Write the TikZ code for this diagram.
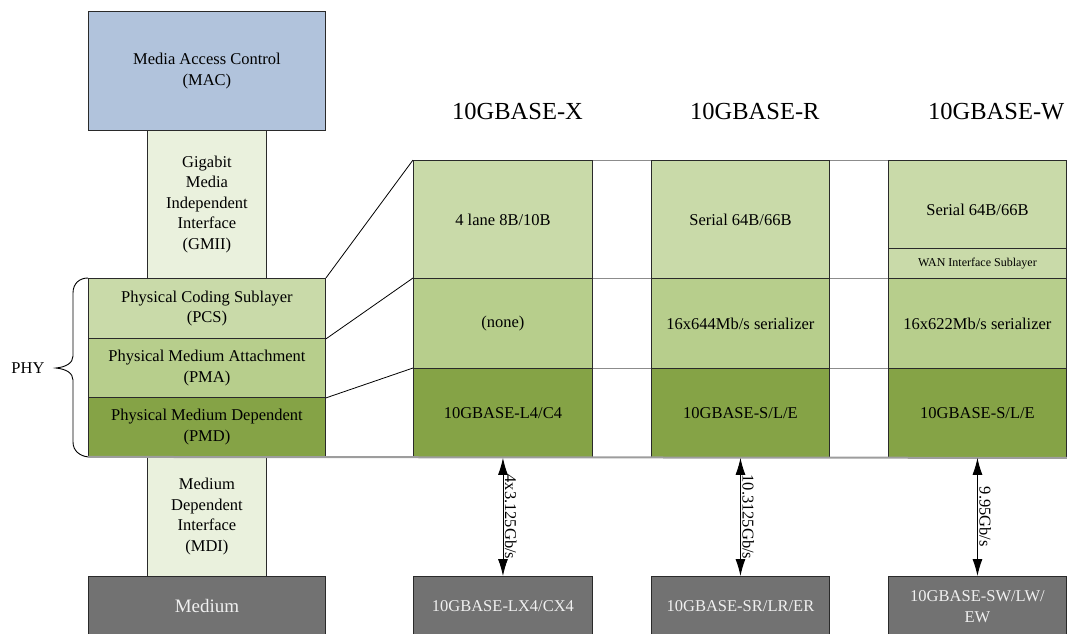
\documentclass[tikz,border=0pt]{standalone}
\usepackage{fontspec}
\setmainfont{Liberation Serif}
\usetikzlibrary{arrows.meta}

\definecolor{macblue}{HTML}{B1C3DC}
\definecolor{ifgreen}{HTML}{EAF1DD}
\definecolor{pcsgreen}{HTML}{C9DAA9}
\definecolor{pmagreen}{HTML}{B7CE8C}
\definecolor{pmdgreen}{HTML}{85A346}
\definecolor{medgray}{HTML}{727272}
\definecolor{rulegray}{HTML}{8C8C8C}
\definecolor{edge}{HTML}{2A2A2A}

\begin{document}
\begin{tikzpicture}[x=1pt,y=-1pt,
  layer/.style={draw=edge, line width=0.9pt, inner sep=0pt, anchor=north west,
    align=center, font=\fontsize{16.5}{20.5}\selectfont},
  wide/.style={layer, minimum width=237pt},
  narrow/.style={layer, minimum width=119pt},
  colA/.style={layer, minimum width=179pt},
  colB/.style={layer, minimum width=178pt},
  medium/.style={fill=medgray, text=white!94!black},
  title/.style={anchor=base west, inner sep=0pt, font=\fontsize{24.5}{29}\selectfont},
  rate/.style={rotate=-90, anchor=south, inner sep=1.5pt, font=\fontsize{16.5}{20}\selectfont},
  rule/.style={draw=rulegray, line width=1pt},
  link/.style={draw=black, line width=0.8pt},
  dbl/.style={draw=black, line width=0.9pt, {Latex[length=17pt,width=10pt]}-{Latex[length=17pt,width=10pt]}}
]
\useasboundingbox (0,0) rectangle (1067,633);

% left stack
\node[wide, fill=macblue, minimum height=119pt] (mac) at (88,11) {Media Access Control\\(MAC)};
\node[narrow, fill=ifgreen, minimum height=148pt] (gmii) at (147,130) {Gigabit\\Media\\Independent\\Interface\\(GMII)};
\node[wide, fill=pcsgreen, minimum height=60pt] (pcs) at (88,278) {Physical Coding Sublayer\\(PCS)};
\node[wide, fill=pmagreen, minimum height=59pt] (pma) at (88,338) {Physical Medium Attachment\\(PMA)};
\node[wide, fill=pmdgreen, minimum height=59pt] (pmd) at (88,397) {Physical Medium Dependent\\(PMD)};
\node[narrow, fill=ifgreen, minimum height=120pt] (mdi) at (147,456) {Medium\\Dependent\\Interface\\(MDI)};
\node[wide, medium, minimum height=60pt, font=\fontsize{19}{22}\selectfont] (med) at (88,576) {Medium};

% PHY brace
\draw[line width=0.9pt] (pcs.north west) .. controls (80,278) and (73,283) .. (73,293)
  -- (73,356) .. controls (73,363) and (66,367) .. (56,368)
  .. controls (66,369) and (73,373) .. (73,380)
  -- (73,442) .. controls (73,451) and (80,456) .. (pmd.south west);
\node[inner sep=0pt, font=\fontsize{16.5}{20}\selectfont] (phy) at (28,368) {PHY};

% separator rules behind the columns
\draw[rule] (413,160) coordinate (rl0) -- (1066,160) coordinate (rr0);
\draw[rule] (413,278) coordinate (rl1) -- (1066,278) coordinate (rr1);
\draw[rule] (413,368) coordinate (rl2) -- (1066,368) coordinate (rr2);

% column 10GBASE-X
\node[colA, fill=pcsgreen, minimum height=118pt] (xa) at (413,160) {4 lane 8B/10B};
\node[colA, fill=pmagreen, minimum height=90pt] (xb) at (413,278) {(none)};
\node[colA, fill=pmdgreen, minimum height=89pt] (xc) at (413,368) {10GBASE-L4/C4};
\node[colA, medium, minimum height=60pt] (xm) at (413,576) {10GBASE-LX4/CX4};

% column 10GBASE-R
\node[colB, fill=pcsgreen, minimum height=118pt] (ra) at (651,160) {Serial 64B/66B};
\node[colB, fill=pmagreen, minimum height=90pt] (rb) at (651,278) {16x644Mb/s serializer};
\node[colB, fill=pmdgreen, minimum height=89pt] (rc) at (651,368) {10GBASE-S/L/E};
\node[colB, medium, minimum height=60pt] (rm) at (651,576) {10GBASE-SR/LR/ER};

% column 10GBASE-W
\node[colB, fill=pcsgreen, minimum height=88pt, text height=22pt] (wa) at (888,160) {Serial 64B/66B};
\node[colB, fill=pcsgreen, minimum height=30pt, font=\fontsize{12}{14}\selectfont] (wis) at (888,248) {WAN Interface Sublayer};
\node[colB, fill=pmagreen, minimum height=90pt] (wb) at (888,278) {16x622Mb/s serializer};
\node[colB, fill=pmdgreen, minimum height=89pt] (wc) at (888,368) {10GBASE-S/L/E};
\node[colB, medium, minimum height=60pt] (wm) at (888,576) {10GBASE-SW/LW/\\EW};

% bottom rule under the PMD row
\draw[draw=rulegray!85, line width=2pt] (pmd.south west) -- (wc.south east);

% titles
\node[title] (tx) at (452,119) {10GBASE-X};
\node[title] (tr) at (690,119) {10GBASE-R};
\node[title] (tw) at (928,119) {10GBASE-W};

% zoom lines from the PHY sublayers to the columns
\draw[link] (pcs.north east) -- (xa.north west);
\draw[link] (pcs.south east) -- (xb.north west);
\draw[link] (pma.south east) -- (xc.north west);

% line rates
\draw[dbl] (xc.south) -- node[rate] {4x3.125Gb/s} (xm.north);
\draw[dbl] (rc.south) -- node[rate] {10.3125Gb/s} (rm.north);
\draw[dbl] (wc.south) -- node[rate] {9.95Gb/s} (wm.north);
\end{tikzpicture}
\end{document}
